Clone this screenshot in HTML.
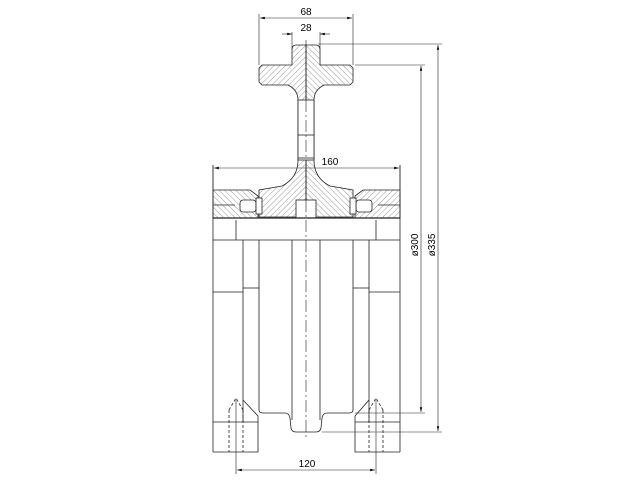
<!DOCTYPE html>
<html><head><style>body{margin:0;background:#fff}svg{display:block}</style></head><body>
<svg width="640" height="480" viewBox="0 0 640 480" xmlns="http://www.w3.org/2000/svg" font-family="Liberation Sans, sans-serif" font-size="10">
<defs>
<pattern id="h" width="4" height="4" patternUnits="userSpaceOnUse" patternTransform="rotate(45)"><line x1="0" y1="0" x2="0" y2="4" stroke="#555" stroke-width="0.6"/></pattern>
<pattern id="h2" width="4" height="4" patternUnits="userSpaceOnUse" patternTransform="rotate(-45)"><line x1="0" y1="0" x2="0" y2="4" stroke="#555" stroke-width="0.6"/></pattern>
<marker id="a" markerWidth="8" markerHeight="6" refX="8" refY="3" orient="auto-start-reverse"><path d="M0,1 L8,3 L0,5z" fill="#000"/></marker>
</defs>
<g stroke="#222" stroke-width="0.8" fill="none">
<!-- rail -->
<path d="M306,45 L296,45 Q292,45 292,50 L292,65 L262,65 L259,68 L259,82 L262,85 L288,85 Q298,90 298,100 L298,160 Q298,178 282,186 L259,190 L259,217 L306,217 Z" fill="url(#h)"/>
<path d="M306,45 L316,45 Q320,45 320,50 L320,65 L350,65 L353,68 L353,82 L350,85 L324,85 Q314,90 314,100 L314,160 Q314,178 330,186 L353,190 L353,217 L306,217 Z" fill="url(#h2)"/>
<rect x="298" y="100" width="16" height="60" fill="#fff"/>
<line x1="298" y1="135" x2="314" y2="135"/><line x1="298" y1="158" x2="314" y2="158"/>
<rect x="296" y="200" width="20" height="18" fill="#fff"/>
<!-- clamps -->
<path d="M213,190 L250,190 L258,196 L258,218 L213,218 Z" fill="url(#h2)"/>
<path d="M400,190 L363,190 L355,196 L355,218 L400,218 Z" fill="url(#h)"/>
<line x1="213" y1="205" x2="235" y2="205"/><line x1="378" y1="205" x2="400" y2="205"/>
<rect x="240" y="200" width="16" height="12" rx="3" fill="#fff"/>
<rect x="356" y="200" width="16" height="12" rx="3" fill="#fff"/>
<rect x="256" y="198" width="6" height="16" fill="#fff"/><rect x="350" y="198" width="6" height="16" fill="#fff"/>
<!-- body -->
<line x1="213" y1="165" x2="213" y2="452"/><line x1="400" y1="165" x2="400" y2="452"/>
<line x1="213" y1="218" x2="400" y2="218" stroke-width="1.2"/>
<line x1="213" y1="240" x2="400" y2="240"/>
<line x1="236" y1="220" x2="236" y2="240"/><line x1="376" y1="220" x2="376" y2="240"/>
<line x1="243" y1="240" x2="243" y2="422"/><line x1="369" y1="240" x2="369" y2="422"/>
<line x1="213" y1="292" x2="243" y2="292"/><line x1="369" y1="292" x2="400" y2="292"/>
<line x1="243" y1="288" x2="259" y2="288"/><line x1="353" y1="288" x2="369" y2="288"/>
<path d="M259,240 L259,410 Q259,413 263,413 L285,413 Q289,413 290,418 L291,428 Q292,432 296,432 L316,432 Q320,432 321,428 L322,418 Q323,413 327,413 L349,413 Q353,413 353,410 L353,240"/>
<line x1="292" y1="240" x2="292" y2="420"/><line x1="320" y1="240" x2="320" y2="420"/>
<!-- bottom blocks -->
<path d="M213,422 L258,422 L258,452 L213,452"/>
<path d="M400,422 L355,422 L355,452 L400,452"/>
<path d="M243,400 L258,416 L258,422"/><path d="M369,400 L355,416 L355,422"/>
<g stroke-dasharray="3,2"><line x1="229" y1="410" x2="229" y2="452"/><line x1="243" y1="410" x2="243" y2="452"/>
<line x1="369" y1="410" x2="369" y2="452"/><line x1="383" y1="410" x2="383" y2="452"/>
<path d="M229,410 L236,398 L243,410"/><path d="M369,410 L376,398 L383,410"/></g>
<!-- centerline -->
<line x1="306" y1="40" x2="306" y2="440" stroke-dasharray="12,3,2,3" stroke-width="0.6"/>
<!-- dims -->
<g stroke-width="0.6">
<line x1="259" y1="14" x2="259" y2="65"/><line x1="353" y1="14" x2="353" y2="65"/>
<line x1="260" y1="18" x2="352" y2="18" marker-start="url(#a)" marker-end="url(#a)"/>
<line x1="292" y1="32" x2="292" y2="50"/><line x1="320" y1="32" x2="320" y2="50"/>
<line x1="282" y1="34" x2="292" y2="34" marker-end="url(#a)"/><line x1="330" y1="34" x2="320" y2="34" marker-end="url(#a)"/>
<line x1="213" y1="165" x2="213" y2="190"/><line x1="400" y1="165" x2="400" y2="190"/>
<line x1="214" y1="168" x2="399" y2="168" marker-start="url(#a)" marker-end="url(#a)"/>
<line x1="236" y1="400" x2="236" y2="474"/><line x1="376" y1="400" x2="376" y2="474"/>
<line x1="237" y1="470" x2="375" y2="470" marker-start="url(#a)" marker-end="url(#a)"/>
<line x1="318" y1="44" x2="442" y2="44"/><line x1="355" y1="65" x2="425" y2="65"/>
<line x1="355" y1="413" x2="425" y2="413"/><line x1="322" y1="432" x2="442" y2="432"/>
<line x1="421" y1="66" x2="421" y2="412" marker-start="url(#a)" marker-end="url(#a)"/>
<line x1="438" y1="45" x2="438" y2="431" marker-start="url(#a)" marker-end="url(#a)"/>
</g>
</g>
<g fill="#000" text-anchor="middle">
<text x="306" y="15">68</text><text x="306" y="31">28</text>
<text x="330" y="165">160</text><text x="307" y="467">120</text>
<text transform="translate(418,245) rotate(-90)">ø300</text>
<text transform="translate(435,245) rotate(-90)">ø335</text>
</g>
</svg>
</body></html>
